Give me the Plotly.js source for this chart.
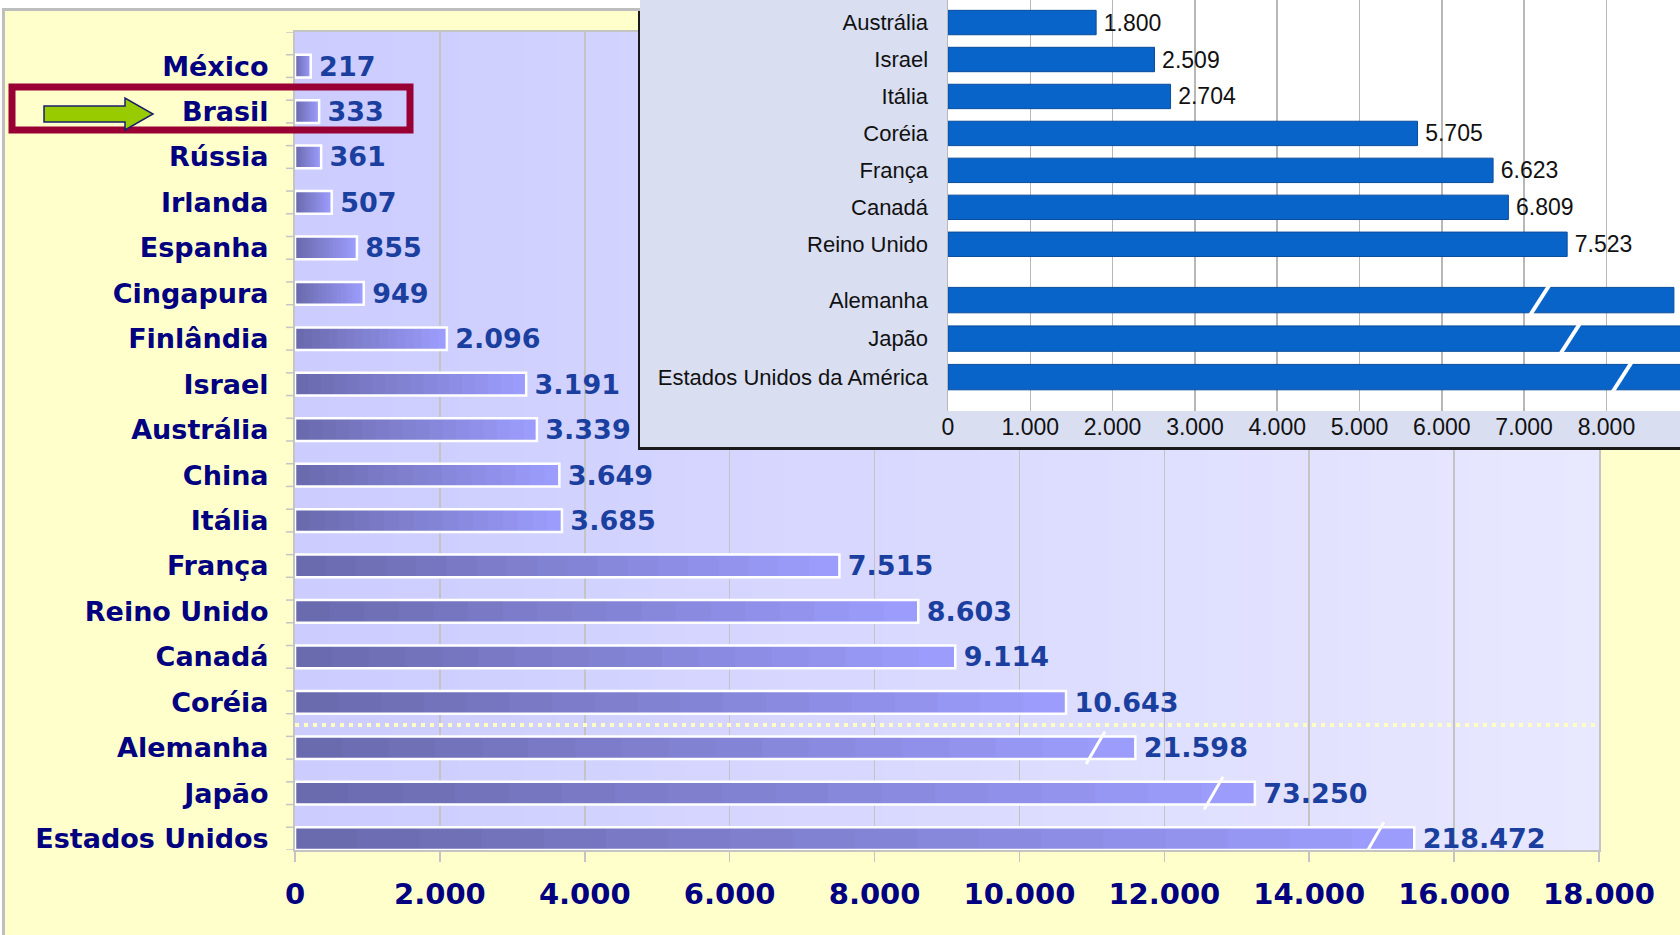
<!DOCTYPE html>
<html>
<head>
<meta charset="utf-8">
<script src="https://cdn.plot.ly/plotly-3.0.1.min.js"></script>
<style>
  html, body { margin: 0; padding: 0; background: #fff; }
  #chart { width: 1680px; height: 935px; }
</style>
</head>
<body>
<div id="chart"></div>
<script>
// main chart, top to bottom
const countries = ["México", "Brasil", "Rússia", "Irlanda", "Espanha", "Cingapura", "Finlândia",
    "Israel", "Austrália", "China", "Itália", "França", "Reino Unido", "Canadá", "Coréia",
    "Alemanha", "Japão", "Estados Unidos"];
const investment = [217, 333, 361, 507, 855, 949, 2096, 3191, 3339, 3649, 3685, 7515, 8603,
    9114, 10643, 21598, 73250, 218472];

// bars that are drawn cut short (broken bars)
const brokenNames = ["Alemanha", "Japão", "Estados Unidos"];
const brokenLength = [11600, 13250, 15450];
const brokenAt = [11050, 12680, 14900];

const mainTicks = [0, 2000, 4000, 6000, 8000, 10000, 12000, 14000, 16000, 18000];

// inset chart
const insetCountries = ["Austrália", "Israel", "Itália", "Coréia", "França", "Canadá", "Reino Unido"];
const insetValues = [1800, 2509, 2704, 5705, 6623, 6809, 7523];
const insetBigCountries = ["Alemanha", "Japão", "Estados Unidos da América"];
const insetBigLength = [8820, 9000, 9000];
const insetBreakAt = [7190, 7560, 8190];
const insetTicks = [0, 1000, 2000, 3000, 4000, 5000, 6000, 7000, 8000];

const W = 1680, H = 935;
const px = x => x / W;
const py = y => 1 - y / H;

const hexToRgb = h => [1, 3, 5].map(i => parseInt(h.slice(i, i + 2), 16));
const mix = (a, b, t) => {
    const ca = hexToRgb(a), cb = hexToRgb(b);
    const c = ca.map((v, i) => Math.round(v + (cb[i] - v) * t));
    return `rgb(${c[0]},${c[1]},${c[2]})`;
};

const barLength = countries.map((c, i) => {
    const b = brokenNames.indexOf(c);
    return b < 0 ? investment[i] : brokenLength[b];
});

const X_MAX = 18000, INSET_MAX = 8894;
const yTop = -0.75, yBottom = countries.length - 0.75;

const data = [];

// gradient bars: each segment runs to the bar end, later ones drawn on top
const SEGMENTS = 18;
for (let k = 0; k < SEGMENTS; k++) {
    data.push({
        type: "bar",
        orientation: "h",
        y: countries,
        x: barLength.map(v => v * (SEGMENTS - k) / SEGMENTS),
        base: barLength.map(v => v * k / SEGMENTS),
        width: 0.5,
        marker: { color: mix("#6A6AAE", "#9C9CFC", k / (SEGMENTS - 1)), line: { width: 0 } },
        hoverinfo: "skip",
    });
}

data.push({
    type: "bar",
    orientation: "h",
    y: countries,
    x: barLength,
    width: 0.5,
    customdata: investment,
    texttemplate: "\u2009%{customdata:,d}",
    textposition: "outside",
    constraintext: "none",
    cliponaxis: false,
    textfont: { family: "DejaVu Sans", size: 27, color: "#1B3F9E", weight: "bold" },
    marker: { color: "rgba(0,0,0,0)", line: { color: "#ffffff", width: 2.5 } },
    hoverinfo: "skip",
});

// empty trace so the inset frame subplot exists
data.push({ type: "scatter", x: [], y: [], xaxis: "x2", yaxis: "y2", hoverinfo: "skip" });

const insetFont = { family: "Liberation Sans", size: 23, color: "#111111" };

data.push({
    type: "bar",
    orientation: "h",
    y: insetCountries,
    x: insetValues,
    xaxis: "x3",
    yaxis: "y3",
    width: 0.66,
    marker: { color: "#0864C9", line: { color: "#0A4C9C", width: 1 } },
    texttemplate: "\u2009%{x:,d}",
    textposition: "outside",
    constraintext: "none",
    cliponaxis: false,
    textfont: insetFont,
    hoverinfo: "skip",
});

data.push({
    type: "bar",
    orientation: "h",
    y: insetBigCountries,
    x: insetBigLength,
    xaxis: "x4",
    yaxis: "y4",
    width: 0.66,
    marker: { color: "#0864C9", line: { color: "#0A4C9C", width: 1 } },
    hoverinfo: "skip",
});

// ---- shapes ----
const shapes = [];

// plot background gradient (inside the main subplot, under the grid)
const STRIPS = 40;
for (let i = 0; i < STRIPS; i++) {
    shapes.push({ type: "rect", xref: "x", yref: "y", layer: "below",
        x0: X_MAX * i / STRIPS, x1: X_MAX * (i + 1) / STRIPS + 20, y0: yTop, y1: yBottom,
        fillcolor: mix("#CCCCFF", "#E8E8FF", i / (STRIPS - 1)), line: { width: 0 } });
}

// white plot areas of the inset
shapes.push({ type: "rect", xref: "x3", yref: "y3", layer: "below", x0: 0, x1: INSET_MAX, y0: -1, y1: 7,
    fillcolor: "#ffffff", line: { width: 0 } });
shapes.push({ type: "rect", xref: "x4", yref: "y4", layer: "below", x0: 0, x1: INSET_MAX, y0: -1, y1: 3,
    fillcolor: "#ffffff", line: { width: 0 } });

// white margin and grey frame of the yellow panel
shapes.push({ type: "rect", xref: "paper", yref: "paper", layer: "above",
    x0: px(-5), x1: px(640), y0: py(8), y1: py(-5), fillcolor: "#ffffff", line: { width: 0 } });
shapes.push({ type: "rect", xref: "paper", yref: "paper", layer: "above",
    x0: px(-5), x1: px(2), y0: py(940), y1: py(-5), fillcolor: "#ffffff", line: { width: 0 } });
shapes.push({ type: "path", xref: "paper", yref: "paper", layer: "above",
    path: `M${px(3.5)},${py(940)} L${px(3.5)},${py(9.5)} L${px(640)},${py(9.5)}`,
    line: { color: "#BEBEBE", width: 3 } });

// small ticks on the category axis at the bar edges
for (let k = 0; k <= countries.length * 2; k++) {
    const yv = yTop + k * 0.5;
    shapes.push({ type: "line", xref: "paper", yref: "y", layer: "above",
        x0: px(286), x1: px(295), y0: yv, y1: yv,
        line: { color: "#C4C4C4", width: 1.5 } });
}

// dotted separator between Coréia and Alemanha
const sepY = countries.indexOf("Alemanha") - 0.5;
shapes.push({ type: "line", xref: "x", yref: "y", x0: 0, x1: X_MAX, y0: sepY, y1: sepY, layer: "above",
    line: { color: "#FFFFC4", width: 4, dash: "4px,5px" } });

// break marks
brokenNames.forEach((name, i) => {
    const idx = countries.indexOf(name);
    shapes.push({ type: "line", xref: "x", yref: "y", layer: "above",
        x0: brokenAt[i] - 130, x1: brokenAt[i] + 130, y0: idx + 0.36, y1: idx - 0.36,
        line: { color: "#ffffff", width: 3 } });
});
insetBigCountries.forEach((name, i) => {
    shapes.push({ type: "line", xref: "x4", yref: "y4", layer: "above",
        x0: insetBreakAt[i] - 120, x1: insetBreakAt[i] + 120, y0: i + 0.4, y1: i - 0.4,
        line: { color: "#ffffff", width: 4 } });
});

// Brasil highlight
shapes.push({ type: "rect", xref: "paper", yref: "paper", layer: "above",
    x0: px(12), x1: px(410), y0: py(130), y1: py(87),
    line: { color: "#990033", width: 7 } });
const arrow = [[44, 106], [125, 106], [125, 98], [153, 114], [125, 130], [125, 122], [44, 122]];
shapes.push({ type: "path", xref: "paper", yref: "paper", layer: "above",
    path: "M" + arrow.map(p => `${px(p[0])},${py(p[1])}`).join(" L") + " Z",
    fillcolor: "#99CC00", line: { color: "#1C1C6E", width: 1.5 } });

const insetY = {
    type: "category",
    categoryorder: "array",
    showgrid: false,
    zeroline: false,
    showline: true,
    linecolor: "#B8B8B8",
    linewidth: 1.5,
    ticks: "",
    ticklabelstandoff: 14,
    tickfont: { family: "Liberation Sans", size: 22, color: "#111111" },
};
const insetX = {
    domain: [px(948), 1],
    range: [0, INSET_MAX],
    tickvals: insetTicks,
    tickformat: ",d",
    showgrid: true,
    gridcolor: "#B8B8B8",
    gridwidth: 1.5,
    zeroline: false,
    ticks: "",
};

const layout = {
    width: W,
    height: H,
    margin: { l: 0, r: 0, t: 0, b: 0 },
    paper_bgcolor: "#FFFFCC",
    plot_bgcolor: "#D9DEF1",
    separators: ",.",
    showlegend: false,
    barmode: "overlay",
    font: { family: "DejaVu Sans" },
    xaxis: {
        domain: [px(295), px(1599)],
        anchor: "y",
        range: [0, X_MAX],
        tickvals: mainTicks,
        tickformat: ",d",
        showgrid: true,
        gridcolor: "#C4C4C4",
        gridwidth: 1.5,
        zeroline: false,
        showline: true,
        mirror: true,
        linecolor: "#C4C4C4",
        linewidth: 2,
        ticks: "outside",
        ticklen: 10,
        tickwidth: 1.5,
        tickcolor: "#C4C4C4",
        ticklabelstandoff: 7,
        tickfont: { family: "DejaVu Sans", size: 29, color: "#000080", weight: "bold" },
    },
    yaxis: {
        domain: [py(850), py(32)],
        anchor: "x",
        type: "category",
        categoryorder: "array",
        categoryarray: countries,
        range: [yBottom, yTop],
        showgrid: false,
        zeroline: false,
        showline: true,
        mirror: true,
        linecolor: "#C4C4C4",
        linewidth: 2,
        ticks: "",
        ticklabelstandoff: 19,
        tickfont: { family: "DejaVu Sans", size: 27, color: "#000080", weight: "bold" },
    },
    // frame of the inset
    xaxis2: {
        domain: [px(640), 1], anchor: "y2", range: [0, 1],
        showgrid: false, zeroline: false, showticklabels: false, ticks: "",
        showline: true, linecolor: "#1a1a1a", linewidth: 2.5,
    },
    yaxis2: {
        domain: [py(447), 1], anchor: "x2", range: [0, 1],
        showgrid: false, zeroline: false, showticklabels: false, ticks: "",
        showline: true, linecolor: "#1a1a1a", linewidth: 2.5,
    },
    xaxis3: Object.assign({}, insetX, { anchor: "y3", showticklabels: false }),
    yaxis3: Object.assign({}, insetY, {
        domain: [py(272), 1], anchor: "x3", categoryarray: insetCountries, range: [6.75, -0.61],
    }),
    xaxis4: Object.assign({}, insetX, { anchor: "y4", ticklabelstandoff: 0, tickfont: insetFont }),
    yaxis4: Object.assign({}, insetY, {
        domain: [py(411), py(272)], anchor: "x4", categoryarray: insetBigCountries, range: [2.88, -0.73],
    }),
    shapes: shapes,
};

Plotly.newPlot("chart", data, layout, { displayModeBar: false, staticPlot: true });
</script>
</body>
</html>
